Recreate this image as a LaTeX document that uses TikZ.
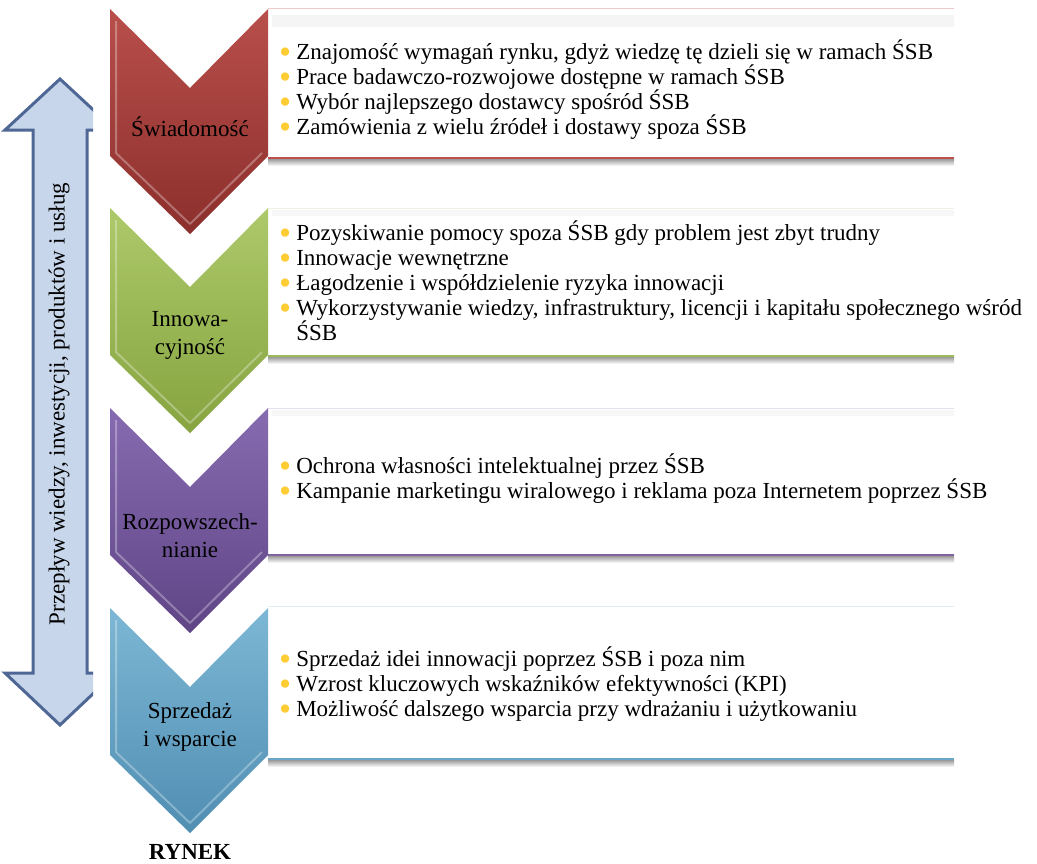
\documentclass[tikz,border=0pt]{standalone}
\usepackage{fontspec}
\setmainfont{Liberation Serif}
\usetikzlibrary{positioning}

\definecolor{bul}{HTML}{FFCC33}
\definecolor{arrfill}{HTML}{C7D6EA}
\definecolor{arrline}{HTML}{4E6794}
\definecolor{redtop}{HTML}{B84F4B}\definecolor{redbot}{HTML}{8C2F2C}\definecolor{redln}{HTML}{C0504D}
\definecolor{grntop}{HTML}{ADC96A}\definecolor{grnbot}{HTML}{86A440}\definecolor{grnln}{HTML}{9BBB59}
\definecolor{purtop}{HTML}{876BB0}\definecolor{purbot}{HTML}{5F4586}\definecolor{purln}{HTML}{8064A2}
\definecolor{blutop}{HTML}{7DB7D5}\definecolor{blubot}{HTML}{508EB2}\definecolor{bluln}{HTML}{6AA6C8}

% chevron outline, top edge at #1
\newcommand\chevpath[1]{(110,#1) -- (190,#1+79) -- (268,#1) -- (268,#1+147) -- (190,#1+225) -- (110,#1+147) -- cycle}
\newcommand\chevbevel[1]{(116,#1+12) -- (116,#1+144) -- (190,#1+215) -- (262,#1+144)}

\tikzset{
  boxtext/.style={anchor=west, inner sep=0pt, align=left, font=\fontsize{23}{25}\selectfont},
  chevlabel/.style={align=center, inner sep=0pt, font=\fontsize{23}{28}\selectfont},
  bevel/.style={draw=white, draw opacity=0.3, line width=2pt, line join=round},
}
\newcommand\bl{\smash{\raisebox{-4pt}{\scalebox{1.5}{\textcolor{bul}{•}}}}\hspace{5pt}}

\begin{document}
\begin{tikzpicture}[x=1pt, y=-1pt]
    \useasboundingbox (0,0) rectangle (1037,863);

    % flow arrow (right half of the heads cut off)
    \begin{scope}
        \clip (0,60) rectangle (93,740);
        \draw[fill=arrfill, draw=arrline, line width=3pt, line join=miter]
            (60,79) -- (115,130) -- (87,130) -- (87,673) -- (115,673) -- (60,725)
            -- (5,673) -- (33,673) -- (33,130) -- (5,130) -- cycle;
    \end{scope}
    \node[rotate=90, inner sep=0pt, font=\fontsize{23}{26}\selectfont] (flow) at (59,404)
        {Przepływ wiedzy, inwestycji, produktów i usług};

    % boxes
    \fill[white] (268,8) rectangle (954,158);
    \fill[black!4] (272,15) rectangle (954,27);
    \shade[top color=black!45, bottom color=white] (268,158) rectangle (954,166);
    \draw[redln!30, line width=1pt] (268,8) -- (954,8);
    \draw[redln, line width=1.5pt] (268,158) -- (954,158);

    \fill[white] (268,208) rectangle (954,356);
    \fill[black!3] (272,210) rectangle (954,216);
    \shade[top color=black!45, bottom color=white] (268,356) rectangle (954,364);
    \draw[grnln!20, line width=1pt] (268,208) -- (954,208);
    \draw[grnln, line width=1.5pt] (268,356) -- (954,356);

    \fill[white] (268,408) rectangle (954,555);
    \fill[black!3] (272,410) rectangle (954,416);
    \shade[top color=black!45, bottom color=white] (268,555) rectangle (954,563);
    \draw[purln!20, line width=1pt] (268,408) -- (954,408);
    \draw[purln, line width=1.5pt] (268,555) -- (954,555);

    \fill[white] (268,606) rectangle (954,759);
    \shade[top color=black!45, bottom color=white] (268,759) rectangle (954,767);
    \draw[bluln!20, line width=1pt] (268,606) -- (954,606);
    \draw[bluln, line width=1.5pt] (268,759) -- (954,759);

    % chevrons
    \shade[top color=redtop, bottom color=redbot] \chevpath{9};
    \draw[bevel] \chevbevel{9};
    \shade[top color=grntop, bottom color=grnbot] \chevpath{208};
    \draw[bevel] \chevbevel{208};
    \shade[top color=purtop, bottom color=purbot] \chevpath{408};
    \draw[bevel] \chevbevel{408};
    \shade[top color=blutop, bottom color=blubot] \chevpath{608};
    \draw[bevel] \chevbevel{608};

    \node[chevlabel] (swi) at (190,127) {Świadomość};
    \node[chevlabel] (inn) at (190,335) {Innowa-\\cyjność};
    \node[chevlabel] (roz) at (190,536) {Rozpowszech-\\nianie};
    \node[chevlabel] (spr) at (190,727) {Sprzedaż\\i wsparcie};
    \node[inner sep=0pt, font=\fontsize{23}{26}\selectfont\bfseries] (rynek) at (190,852) {RYNEK};

    % texts
    \node[boxtext] (switxt) at (279,89.5) {%
        \bl Znajomość wymagań rynku, gdyż wiedzę tę dzieli się w ramach ŚSB\\
        \bl Prace badawczo-rozwojowe dostępne w ramach ŚSB\\
        \bl Wybór najlepszego dostawcy spośród ŚSB\\
        \bl Zamówienia z wielu źródeł i dostawy spoza ŚSB};
    \node[boxtext] (inntxt) at (279,281) {%
        \bl Pozyskiwanie pomocy spoza ŚSB gdy problem jest zbyt trudny\\
        \bl Innowacje wewnętrzne\\
        \bl Łagodzenie i współdzielenie ryzyka innowacji\\
        \bl Wykorzystywanie wiedzy, infrastruktury, licencji i kapitału społecznego wśród\\
        \phantom{\bl}ŚSB};
    \node[boxtext] (roztxt) at (279,479) {%
        \bl Ochrona własności intelektualnej przez ŚSB\\
        \bl Kampanie marketingu wiralowego i reklama poza Internetem poprzez ŚSB};
    \node[boxtext] (sprtxt) at (279,684) {%
        \bl Sprzedaż idei innowacji poprzez ŚSB i poza nim\\
        \bl Wzrost kluczowych wskaźników efektywności (KPI)\\
        \bl Możliwość dalszego wsparcia przy wdrażaniu i użytkowaniu};
\end{tikzpicture}
\end{document}
